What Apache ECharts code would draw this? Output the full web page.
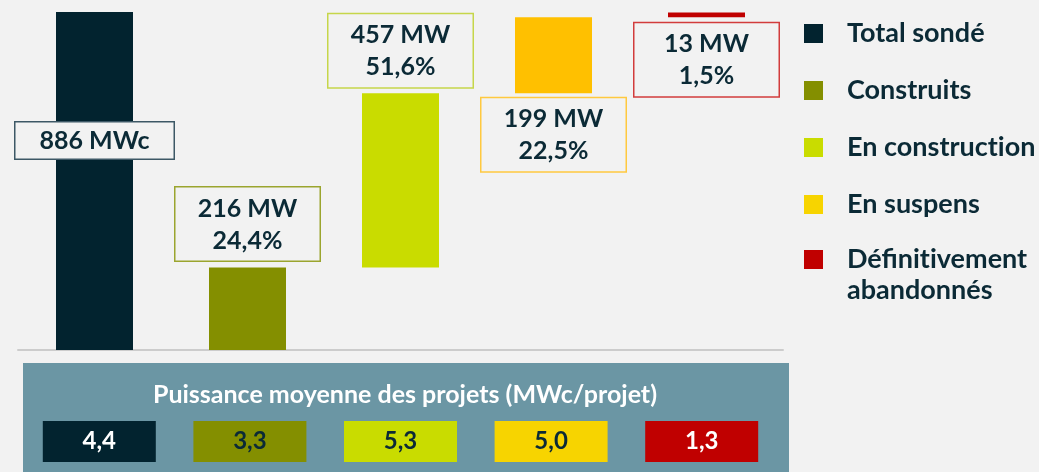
<!DOCTYPE html>
<html>
<head>
  <meta charset="utf-8">
  <title>Puissance des projets</title>
  <script src="https://cdn.jsdelivr.net/npm/echarts@6/dist/echarts.min.js"></script>
  <style>
    html, body { margin: 0; padding: 0; background: #f2f2f2; }
    #chart { width: 1039px; height: 472px; }
  </style>
</head>
<body>
  <div id="chart"></div>
  <script>
    // données
    var categories = ['Total sondé', 'Construits', 'En construction', 'En suspens', 'Définitivement abandonnés'];
    var puissance = [886, 216, 457, 199, 13];          // MW
    var unites = ['MWc', 'MW', 'MW', 'MW', 'MW'];
    var moyenne = [4.4, 3.3, 5.3, 5.0, 1.3];            // MWc/projet

    var barColors = ['#02232f', '#848f00', '#c9dc00', '#ffc000', '#c00000'];
    var legendColors = ['#02232f', '#848f00', '#c9dc00', '#f7d400', '#c00000'];
    var boxBorders = ['#3d5866', '#9ba52e', '#c6d64a', '#ffc93f', '#d23c3c'];
    var moyTextColors = ['#ffffff', '#0b2a36', '#0b2a36', '#0b2a36', '#ffffff'];
    var txt = '#0b2a36';
    var font = 'Lato';

    function fr(v, d) { return v.toFixed(d).replace('.', ','); }
    // pas de ligature "ti" (Lato)
    function noLig(s) { return s.replace(/ti/g, 't\u200Ci'); }

    // base invisible de la cascade
    var base = [0];
    var cumul = 0;
    for (var i = 1; i < puissance.length; i++) {
      base.push(cumul);
      cumul += puissance[i];
    }

    // position des étiquettes
    var labelPos = [['50%', '38%'], 'top', 'top', 'bottom', 'bottom'];
    var labelDist = [0, 7, 6, 5, 6];

    var series = [{
      name: 'base',
      type: 'bar',
      stack: 'w',
      barWidth: 77,
      silent: true,
      itemStyle: { color: 'transparent' },
      data: base
    }];

    categories.forEach(function (c, i) {
      var d = categories.map(function (x, j) { return j === i ? puissance[i] : '-'; });
      var lbl = {
        show: true,
        position: labelPos[i],
        distance: labelDist[i],
        fontFamily: font,
        fontWeight: 'bold',
        fontSize: 25,
        color: txt,
        backgroundColor: '#f2f2f2',
        borderColor: boxBorders[i],
        borderWidth: 1.5,
        align: 'center',
        formatter: function (p) {
          if (i === 0) return p.value + ' ' + unites[i];
          return p.value + ' ' + unites[i] + '\n' + fr(p.value / puissance[0] * 100, 1) + '%';
        }
      };
      if (i === 0) {
        lbl.verticalAlign = 'middle';
        lbl.width = 158;
        lbl.lineHeight = 36;
      } else {
        lbl.width = 144;
        lbl.lineHeight = 32;
        lbl.padding = [5, 0, 4, 0];
      }
      series.push({
        name: c,
        type: 'bar',
        stack: 'w',
        barWidth: 77,
        itemStyle: { color: barColors[i] },
        label: lbl,
        z: 3,
        data: d
      });
    });

    series.push({
      name: 'moyenne',
      type: 'scatter',
      xAxisIndex: 1,
      yAxisIndex: 1,
      symbol: 'rect',
      symbolSize: [113, 41],
      silent: true,
      encode: { x: 0, y: 1 },
      label: {
        show: true,
        position: 'inside',
        fontFamily: font,
        fontWeight: 'bold',
        fontSize: 24,
        formatter: function (p) { return fr(p.value[2], 1); }
      },
      data: moyenne.map(function (v, i) {
        return {
          value: [categories[i], 0, v],
          itemStyle: { color: legendColors[i], opacity: 1 },
          label: { color: moyTextColors[i] }
        };
      })
    });

    var legendBase = {
      orient: 'vertical',
      left: 804,
      padding: 0,
      itemWidth: 19,
      itemHeight: 19,
      itemGap: 26,
      selectedMode: false,
      icon: 'rect',
      textStyle: { fontFamily: font, fontWeight: 'bold', fontSize: 27, lineHeight: 31, color: txt, padding: [0, 0, 0, 19] }
    };
    function legendData(list) {
      return list.map(function (c) {
        return { name: c, itemStyle: { color: legendColors[categories.indexOf(c)] } };
      });
    }

    var chart = echarts.init(document.getElementById('chart'));
    chart.setOption({
      backgroundColor: '#f2f2f2',
      animation: false,
      title: {
        text: 'Puissance moyenne des projets (MWc/projet)',
        left: 400,
        top: 377,
        textAlign: 'center',
        textStyle: { fontFamily: font, fontWeight: 'bold', fontSize: 25, color: '#ffffff' }
      },
      graphic: [{
        type: 'rect',
        z: -10,
        shape: { x: 23, y: 363, width: 766, height: 109 },
        style: { fill: '#6b96a4' }
      }],
      legend: [
        Object.assign({}, legendBase, {
          top: 18,
          formatter: noLig,
          data: legendData(categories.slice(0, 4))
        }),
        // dernier élément sur deux lignes, carré aligné sur la première
        Object.assign({}, legendBase, {
          top: 213,
          formatter: function (n) { return '\n' + noLig(n).replace('ment ', 'ment\n'); },
          data: legendData(categories.slice(4))
        })
      ],
      grid: [
        { left: 18, right: 256, top: 12, bottom: 122 },
        { left: 24, right: 262, top: 421, bottom: 10 }
      ],
      xAxis: [{
        type: 'category',
        data: categories,
        axisLine: { lineStyle: { color: '#cccccc', width: 2 } },
        axisTick: { show: false },
        axisLabel: { show: false }
      }, {
        type: 'category',
        gridIndex: 1,
        data: categories,
        show: false
      }],
      yAxis: [{
        type: 'value',
        min: 0,
        max: function (v) { return v.max; },
        show: false,
        splitLine: { show: false }
      }, {
        type: 'value',
        gridIndex: 1,
        min: -1,
        max: 1,
        show: false,
        splitLine: { show: false }
      }],
      series: series
    });
  </script>
</body>
</html>
